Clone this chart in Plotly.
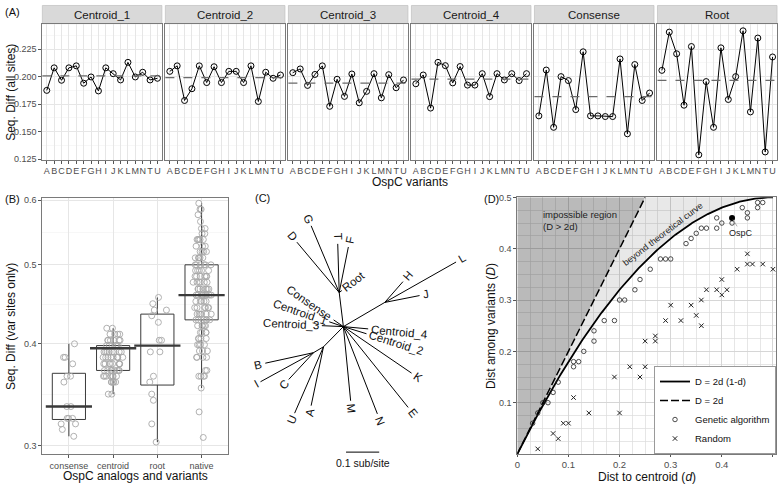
import numpy as np
import plotly.graph_objects as go

W, H = 778, 486
FONT = "Liberation Sans, Arial, Helvetica, sans-serif"

# ---------------- Panel A data ----------------
variants = ["A", "B", "C", "D", "E", "F", "G", "H", "I", "J", "K", "L", "M", "N", "T", "U"]
analogs = ["Centroid_1", "Centroid_2", "Centroid_3", "Centroid_4", "Consense", "Root"]
seqdiff_centroid_1 = [0.1875, 0.2080, 0.1967, 0.2080, 0.2098, 0.1940, 0.1997, 0.1870,
                      0.2080, 0.2027, 0.1970, 0.2130, 0.1997, 0.2040, 0.1970, 0.1985]
seqdiff_centroid_2 = [0.2048, 0.2098, 0.1783, 0.1890, 0.2098, 0.1946, 0.2090, 0.1946,
                      0.2048, 0.2048, 0.1946, 0.2098, 0.1774, 0.2040, 0.1985, 0.2015]
seqdiff_centroid_3 = [0.2036, 0.2070, 0.1920, 0.2020, 0.2098, 0.1730, 0.1976, 0.1820,
                      0.2024, 0.1762, 0.1866, 0.2027, 0.1807, 0.2018, 0.1899, 0.1970]
seqdiff_centroid_4 = [0.1935, 0.2015, 0.1714, 0.2130, 0.2100, 0.1943, 0.2092, 0.1923,
                      0.1923, 0.2027, 0.1818, 0.2027, 0.1970, 0.2027, 0.1964, 0.2027]
seqdiff_consense = [0.1643, 0.2060, 0.1539, 0.2000, 0.1964, 0.1700, 0.2226, 0.1643,
                    0.1643, 0.1637, 0.1637, 0.2161, 0.1480, 0.2110, 0.1783, 0.1851]
seqdiff_root = [0.2057, 0.2405, 0.2208, 0.1740, 0.2274, 0.1289, 0.1955, 0.1539,
                0.2262, 0.1792, 0.2000, 0.2417, 0.1679, 0.2351, 0.1315, 0.2179]
seqdiff_all = [seqdiff_centroid_1, seqdiff_centroid_2, seqdiff_centroid_3,
               seqdiff_centroid_4, seqdiff_consense, seqdiff_root]

# ---------------- Panel B data ----------------
b_groups = ["consense", "centroid", "root", "native"]
box_q1 = [0.323, 0.371, 0.356, 0.428]
box_median = [0.335, 0.395, 0.398, 0.459]
box_q3 = [0.368, 0.398, 0.435, 0.500]
box_lower = [0.308, 0.347, 0.303, 0.353]
box_upper = [0.400, 0.418, 0.456, 0.595]
pts_consense = [0.400, 0.385, 0.385, 0.378, 0.365, 0.365, 0.359, 0.335, 0.335, 0.324,
                0.324, 0.324, 0.319, 0.319, 0.314, 0.308]
pts_centroid = [0.418, 0.418,
                0.411, 0.411, 0.411, 0.411,
                0.404, 0.404, 0.404, 0.404, 0.404, 0.404,
                0.398, 0.398, 0.398, 0.398, 0.398,
                0.391, 0.391, 0.391, 0.391, 0.391, 0.391, 0.391, 0.391,
                0.385, 0.385, 0.385, 0.385, 0.385, 0.385, 0.385, 0.385, 0.385,
                0.378, 0.378, 0.378, 0.378, 0.378, 0.378, 0.378, 0.378,
                0.371, 0.371, 0.371, 0.371, 0.371, 0.371, 0.371, 0.371,
                0.365, 0.365, 0.365, 0.365, 0.365, 0.365, 0.365,
                0.359, 0.359, 0.359, 0.359, 0.359,
                0.347, 0.347]
pts_root = [0.456, 0.448, 0.440, 0.440, 0.433, 0.425, 0.404, 0.404, 0.391, 0.391,
            0.365, 0.359, 0.347, 0.341, 0.319, 0.303]
pts_native = [0.595, 0.585, 0.585, 0.576, 0.565, 0.554, 0.554, 0.546, 0.546,
              0.537, 0.537, 0.537, 0.537, 0.537,
              0.527, 0.527, 0.527,
              0.519, 0.519, 0.519, 0.519,
              0.510, 0.510, 0.510, 0.510, 0.510,
              0.500, 0.500, 0.500, 0.500, 0.500, 0.500,
              0.492, 0.492, 0.492, 0.492, 0.492,
              0.484, 0.484, 0.484, 0.484, 0.484, 0.484,
              0.476, 0.476, 0.476, 0.476, 0.476, 0.476,
              0.467, 0.467, 0.467, 0.467, 0.467, 0.467, 0.467,
              0.459, 0.459, 0.459, 0.459, 0.459, 0.459, 0.459, 0.459,
              0.451, 0.451, 0.451, 0.451, 0.451,
              0.443, 0.443, 0.443, 0.443, 0.443, 0.443,
              0.435, 0.435, 0.435, 0.435, 0.435, 0.435,
              0.428, 0.428, 0.428, 0.428, 0.428, 0.428,
              0.421, 0.421, 0.421, 0.421, 0.421,
              0.413, 0.413, 0.413, 0.413,
              0.406, 0.406, 0.406, 0.406,
              0.399, 0.399, 0.399, 0.399,
              0.392, 0.392, 0.392,
              0.385, 0.385, 0.385, 0.385,
              0.371, 0.371,
              0.365, 0.365, 0.365, 0.365,
              0.353, 0.330, 0.307]
b_points = [pts_consense, pts_centroid, pts_root, pts_native]

# ---------------- Panel C data (unrooted tree: parent, child, branch length sub/site, angle deg) ----------------
tree_parent = ["O", "N1", "N1", "N1", "N1", "N1", "O", "N4", "N4", "N4", "O", "O", "O", "O", "O",
               "O", "O", "O", "O", "O", "N2", "N2", "N2", "N3", "N3", "N3"]
tree_child = ["N1", "D", "G", "T", "F", "Root", "N4", "H", "J", "L", "Centroid_4", "Centroid_2",
              "Centroid_3", "Centroid_1", "Consense", "K", "E", "N", "M", "N2", "A", "U", "N3",
              "B", "I", "C"]
tree_length = [0.105, 0.200, 0.221, 0.149, 0.142, 0.010, 0.145, 0.084, 0.107, 0.248, 0.075, 0.073,
               0.065, 0.045, 0.036, 0.250, 0.315, 0.286, 0.228, 0.086, 0.184, 0.221, 0.035,
               0.149, 0.183, 0.111]
tree_angle = [96.9, 129.6, 112.5, 91.7, 78.8, 38.0, 30.7, 49.2, 11.3, 29.9, -5.3, -17.4,
              177.4, 161.0, 145.0, -34.7, -51.7, -69.0, -84.5, -134.2, -101.7, -113.2, -149.0,
              -167.5, -150.9, -132.4]
scale_bar_len = 0.1

# ---------------- Panel D data ----------------
ga_d = [0.47, 0.48, 0.47, 0.44, 0.45, 0.45, 0.42, 0.40, 0.39, 0.39, 0.36, 0.37, 0.35, 0.34, 0.33,
        0.28, 0.29, 0.30, 0.26, 0.24, 0.23, 0.20, 0.21, 0.17, 0.19, 0.15, 0.15, 0.13, 0.11, 0.12,
        0.11, 0.08, 0.07, 0.06, 0.05, 0.04, 0.03]
ga_D = [0.49, 0.49, 0.48, 0.48, 0.47, 0.46, 0.45, 0.45, 0.46, 0.44, 0.44, 0.44, 0.43, 0.42, 0.41,
        0.38, 0.38, 0.38, 0.36, 0.34, 0.32, 0.30, 0.30, 0.26, 0.26, 0.24, 0.22, 0.20, 0.18, 0.18,
        0.17, 0.14, 0.12, 0.10, 0.10, 0.08, 0.06]
rnd_d = [0.45, 0.45, 0.46, 0.48, 0.50, 0.43, 0.40, 0.37, 0.39, 0.41, 0.40, 0.36, 0.30, 0.34, 0.35,
         0.29, 0.32, 0.36, 0.25, 0.27, 0.27, 0.22, 0.25, 0.19, 0.24, 0.11, 0.14, 0.20, 0.09, 0.10,
         0.07, 0.08, 0.04]
rnd_D = [0.39, 0.37, 0.37, 0.37, 0.36, 0.36, 0.34, 0.32, 0.32, 0.32, 0.31, 0.30, 0.29, 0.29, 0.27,
         0.26, 0.26, 0.25, 0.22, 0.22, 0.23, 0.17, 0.17, 0.15, 0.15, 0.11, 0.08, 0.08, 0.06, 0.06,
         0.04, 0.03, 0.01]
ospc_d = [0.42]
ospc_D = [0.46]

# ---------------- helpers ----------------
def fx(px):
    return px / W

def fy(py):
    return 1 - py / H

GRID = "#e6e6e6"
MINOR = "#f2f2f2"
BORDER = "#7a7a7a"
TICKC = "#4d4d4d"

fig = go.Figure()
annotations = []
shapes = []
layout_axes = {}

# ---------------- Panel A ----------------
A_LEFT, A_W, A_GAP = 39.5, 120.0, 3.5
A_TOP, A_BOT = 19.0, 158.0
for i, (name, vals) in enumerate(zip(analogs, seqdiff_all)):
    n = i + 1
    sfx = "" if n == 1 else str(n)
    left = A_LEFT + i * (A_W + A_GAP)
    right = left + A_W
    fig.add_trace(go.Scatter(
        x=variants, y=vals, mode="lines+markers", xaxis="x" + sfx, yaxis="y" + sfx,
        line=dict(color="black", width=1),
        marker=dict(symbol="circle-open", size=6, color="black", line=dict(width=1)),
        showlegend=False, hoverinfo="skip"))
    shapes.append(dict(type="line", xref="x%s domain" % sfx, yref="y" + sfx,
                       x0=0, x1=1, y0=float(np.mean(vals)), y1=float(np.mean(vals)),
                       line=dict(color="#6a6a6a", width=1.2, dash="dash"), layer="above"))
    layout_axes["xaxis" + sfx] = dict(
        domain=[fx(left), fx(right)], anchor="y" + sfx, type="category",
        categoryorder="array", categoryarray=variants, range=[-0.6, 15.6],
        tickmode="linear", tick0=0, dtick=1,
        showgrid=True, gridcolor=GRID, gridwidth=1, showline=True, mirror=True,
        linecolor=BORDER, linewidth=1, ticks="outside", ticklen=2.5, tickcolor="#555",
        tickfont=dict(size=9, color=TICKC), tickangle=0, zeroline=False)
    layout_axes["yaxis" + sfx] = dict(
        domain=[fy(A_BOT), fy(A_TOP)], anchor="x" + sfx, range=[0.1241, 0.2482],
        tickmode="linear", tick0=0.125, dtick=0.025, tickformat=".3f",
        showticklabels=(n == 1), ticks="outside" if n == 1 else "", ticklen=3,
        tickcolor="#555", tickfont=dict(size=9, color=TICKC),
        showgrid=True, gridcolor=GRID, gridwidth=1,
        minor=dict(tick0=0.125, dtick=0.0125, showgrid=True, gridcolor=MINOR, gridwidth=0.6),
        showline=True, mirror=True, linecolor=BORDER, linewidth=1, zeroline=False)
    # strip
    shapes.append(dict(type="rect", xref="paper", yref="paper", x0=fx(left), x1=fx(right),
                       y0=fy(A_TOP), y1=fy(0.5), fillcolor="#d9d9d9",
                       line=dict(color="#c4c4c4", width=0.8), layer="below"))
    annotations.append(dict(text=name, x=fx((left + right) / 2), y=fy(10), xref="paper", yref="paper",
                            showarrow=False, font=dict(size=11.5, color="#1a1a1a"),
                            xanchor="center", yanchor="middle"))

# ---------------- Panel B ----------------
fig.add_trace(go.Box(
    x=b_groups, q1=box_q1, median=box_median, q3=box_q3,
    lowerfence=box_lower, upperfence=box_upper, xaxis="x7", yaxis="y7",
    width=0.75, whiskerwidth=0, boxpoints=False,
    line=dict(color="#3a3a3a", width=1), fillcolor="rgba(255,255,255,0)",
    showlegend=False, hoverinfo="skip"))
fig.add_trace(go.Scatter(
    x=b_groups, y=box_median, mode="markers", xaxis="x7", yaxis="y7",
    marker=dict(symbol="line-ew", size=33, line=dict(color="#3a3a3a", width=2.4)),
    showlegend=False, hoverinfo="skip"))
px_all, py_all = [], []
for g, pts in zip(b_groups, b_points):
    px_all += [g] * len(pts)
    py_all += pts
fig.add_trace(go.Box(
    x=px_all, y=py_all, xaxis="x7", yaxis="y7", width=0.75,
    boxpoints="all", jitter=0.62, pointpos=0,
    line=dict(color="rgba(0,0,0,0)", width=0), fillcolor="rgba(0,0,0,0)",
    marker=dict(symbol="circle-open", size=6, color="#a8a8a8", line=dict(width=0.9)),
    showlegend=False, hoverinfo="skip"))

B_L, B_R, B_T, B_B = 39.5, 226.0, 197.0, 457.7
layout_axes["xaxis7"] = dict(
    domain=[fx(B_L), fx(B_R)], anchor="y7", type="category", categoryorder="array",
    categoryarray=b_groups, range=[-0.6, 3.6], showgrid=True, gridcolor=GRID, gridwidth=1,
    showline=True, mirror=True, linecolor=BORDER, linewidth=1, ticks="outside", ticklen=2.5,
    tickcolor="#555", tickfont=dict(size=9, color=TICKC), zeroline=False)
layout_axes["yaxis7"] = dict(
    domain=[fy(B_B), fy(B_T)], anchor="x7", type="log",
    range=[np.log10(0.2928), np.log10(0.6033)],
    tickmode="array", tickvals=[0.3, 0.4, 0.5, 0.6], ticktext=["0.3", "0.4", "0.5", "0.6"],
    ticks="outside", ticklen=3, tickcolor="#555", tickfont=dict(size=9, color=TICKC),
    showgrid=True, gridcolor=GRID, gridwidth=1,
    minor=dict(tickmode="array", tickvals=[0.3464, 0.4472, 0.5477], showgrid=True,
               gridcolor=MINOR, gridwidth=0.6),
    showline=True, mirror=True, linecolor=BORDER, linewidth=1, zeroline=False)

# ---------------- Panel C (tree) ----------------
pos = {"O": (0.0, 0.0)}
for p, c, ln, ang in zip(tree_parent, tree_child, tree_length, tree_angle):
    x0, y0 = pos[p]
    a = np.radians(ang)
    pos[c] = (x0 + ln * np.cos(a), y0 + ln * np.sin(a))
ex, ey = [], []
for p, c in zip(tree_parent, tree_child):
    ex += [pos[p][0], pos[c][0], None]
    ey += [pos[p][1], pos[c][1], None]
fig.add_trace(go.Scatter(x=ex, y=ey, mode="lines", xaxis="x8", yaxis="y8",
                         line=dict(color="black", width=1), showlegend=False, hoverinfo="skip"))

C_L, C_R, C_T, C_B = 250.0, 480.0, 180.0, 480.0
c_xr = [-0.2754, 0.4153]
c_yr = [-0.4574, 0.4435]
PX_PER_UNIT = (C_R - C_L) / (c_xr[1] - c_xr[0])
layout_axes["xaxis8"] = dict(domain=[fx(C_L), fx(C_R)], anchor="y8", range=c_xr, visible=False)
layout_axes["yaxis8"] = dict(domain=[fy(C_B), fy(C_T)], anchor="x8", range=c_yr, visible=False)

NARROW = {"i": 0.222, "l": 0.222, "j": 0.222, "t": 0.278, "f": 0.278, "r": 0.333, "I": 0.278,
          " ": 0.278, "_": 0.556, ".": 0.278, "J": 0.5, "M": 0.833}

def text_w(s, size):
    w = 0.0
    for ch in s:
        if ch in NARROW:
            w += NARROW[ch]
        elif ch.isupper():
            w += 0.70
        else:
            w += 0.556
    return w * size

parents = set(tree_parent)
LABEL_SIZE = 11.5
for p, c, ang in zip(tree_parent, tree_child, tree_angle):
    if c in parents:
        continue
    tx, ty = pos[c]
    a = np.radians(ang)
    half = (text_w(c, LABEL_SIZE) / 2 + 3.5) / PX_PER_UNIT
    cx, cy = tx + half * np.cos(a), ty + half * np.sin(a)
    if -90 < ang <= 90:
        rot = -ang
    else:
        rot = -(ang - 180) if ang > 0 else -(ang + 180)
    annotations.append(dict(text=c, x=cx, y=cy, xref="x8", yref="y8", showarrow=False,
                            textangle=rot, font=dict(size=LABEL_SIZE, color="#111"),
                            xanchor="center", yanchor="middle"))

SB_X0, SB_Y = 0.008, -0.384
shapes.append(dict(type="line", xref="x8", yref="y8", x0=SB_X0, x1=SB_X0 + scale_bar_len,
                   y0=SB_Y, y1=SB_Y, line=dict(color="black", width=1)))
annotations.append(dict(text="0.1 sub/site", x=SB_X0 + scale_bar_len / 2, y=SB_Y - 0.034,
                        xref="x8", yref="y8", showarrow=False, font=dict(size=10.5, color="#111"),
                        xanchor="center", yanchor="middle"))

# ---------------- Panel D ----------------
dgrid = np.linspace(0, 0.5, 201)
curve = 2 * dgrid * (1 - dgrid)
d_lin = np.linspace(0, 0.25, 51)
lin = 2 * d_lin
# impossible region D > 2d
fig.add_trace(go.Scatter(x=list(d_lin) + [0.0], y=list(lin) + [0.5], fill="toself",
                         fillcolor="rgba(0,0,0,0.27)", line=dict(width=0), mode="lines",
                         xaxis="x9", yaxis="y9", showlegend=False, hoverinfo="skip"))
# region between D = 2d and the theoretical curve
fig.add_trace(go.Scatter(x=list(d_lin) + [0.5] + list(dgrid[::-1]),
                         y=list(lin) + [0.5] + list(curve[::-1]), fill="toself",
                         fillcolor="rgba(0,0,0,0.09)", line=dict(width=0), mode="lines",
                         xaxis="x9", yaxis="y9", showlegend=False, hoverinfo="skip"))
fig.add_trace(go.Scatter(x=dgrid, y=curve, mode="lines", name="D = 2d (1-d)",
                         line=dict(color="black", width=1.8), xaxis="x9", yaxis="y9"))
fig.add_trace(go.Scatter(x=d_lin, y=lin, mode="lines", name="D = 2d",
                         line=dict(color="black", width=1.5, dash="8px,3px"), xaxis="x9", yaxis="y9"))
fig.add_trace(go.Scatter(x=ga_d, y=ga_D, mode="markers", name="Genetic algorithm",
                         marker=dict(symbol="circle-open", size=4.5, color="#222", line=dict(width=0.8)),
                         xaxis="x9", yaxis="y9"))
fig.add_trace(go.Scatter(x=rnd_d, y=rnd_D, mode="markers", name="Random",
                         marker=dict(symbol="x-thin", size=4.5, color="#222", line=dict(width=1, color="#222")),
                         xaxis="x9", yaxis="y9"))
fig.add_trace(go.Scatter(x=ospc_d, y=ospc_D, mode="markers", marker=dict(size=6, color="black"),
                         xaxis="x9", yaxis="y9", showlegend=False, hoverinfo="skip"))

D_L, D_R, D_T, D_B = 516.3, 776.0, 196.0, 457.5
layout_axes["xaxis9"] = dict(
    domain=[fx(D_L), fx(D_R)], anchor="y9", range=[0, 0.506],
    tickmode="array", tickvals=[0, 0.1, 0.2, 0.3, 0.4, 0.5],
    ticktext=["0", "0.1", "0.2", "0.3", "0.4", "0.5"],
    ticks="outside", ticklen=2, tickcolor="#555", tickfont=dict(size=9.5, color=TICKC),
    showgrid=True, gridcolor="#d2d2d2", gridwidth=0.8,
    minor=dict(tick0=0, dtick=0.025, showgrid=True, gridcolor="#dcdcdc", gridwidth=0.7),
    showline=True, mirror=True, linecolor=BORDER, linewidth=1, zeroline=False)
layout_axes["yaxis9"] = dict(
    domain=[fy(D_B), fy(D_T)], anchor="x9", range=[0, 0.5],
    tickmode="array", tickvals=[0.1, 0.2, 0.3, 0.4, 0.5],
    ticktext=["0.1", "0.2", "0.3", "0.4", "0.5"],
    ticks="outside", ticklen=3, tickcolor="#555", tickfont=dict(size=9, color=TICKC),
    showgrid=True, gridcolor="#d2d2d2", gridwidth=0.8,
    minor=dict(tick0=0, dtick=0.025, showgrid=True, gridcolor="#dcdcdc", gridwidth=0.7),
    showline=True, mirror=True, linecolor=BORDER, linewidth=1, zeroline=False)

annotations.append(dict(text="impossible region<br>(D > 2d)", x=0.046, y=0.482, xref="x9", yref="y9",
                        showarrow=False, align="left", xanchor="left", yanchor="top",
                        font=dict(size=9.5, color="#222")))
annotations.append(dict(text="beyond theoretical curve", x=0.285, y=0.428, xref="x9", yref="y9",
                        showarrow=False, textangle=-37.5, font=dict(size=9, color="#222"),
                        xanchor="center", yanchor="middle"))
annotations.append(dict(text="OspC", x=ospc_d[0], y=ospc_D[0], xref="x9", yref="y9",
                        showarrow=True, arrowhead=0, arrowwidth=0.8, arrowcolor="#999",
                        ax=9, ay=15, standoff=2, font=dict(size=9, color="#222")))

# ---------------- titles & panel labels ----------------
def ann(text, x, y, size=12, angle=0, anchor="center"):
    annotations.append(dict(text=text, x=fx(x), y=fy(y), xref="paper", yref="paper",
                            showarrow=False, textangle=angle, font=dict(size=size, color="#111"),
                            xanchor=anchor, yanchor="middle"))

ann("Seq. Diff (all sites)", 8, 88.5, angle=-90)
ann("OspC variants", 408.5, 180.5)
ann("Seq. Diff (var sites only)", 8, 327, angle=-90)
ann("OspC analogs and variants", 132.7, 480)
ann("Dist to centroid (<i>d</i>)", 646, 481)
ann("Dist among variants (<i>D</i>)", 490, 327, angle=-90)
ann("(A)", 0, 7, size=11, anchor="left")
ann("(B)", 0, 198, size=11, anchor="left")
ann("(C)", 251, 196.5, size=11, anchor="left")
ann("(D)", 480.5, 197.5, size=11, anchor="left")

fig.update_layout(
    width=W, height=H, margin=dict(l=0, r=0, t=0, b=0),
    paper_bgcolor="white", plot_bgcolor="white",
    font=dict(family=FONT, color="#111"),
    boxmode="overlay",
    showlegend=True,
    legend=dict(x=fx(776), xanchor="right", y=fy(457.5), yanchor="bottom",
                bgcolor="white", bordercolor="#9a9a9a", borderwidth=1,
                font=dict(size=9.5, color="#111"), itemwidth=30, tracegroupgap=0),
    annotations=annotations, shapes=shapes, **layout_axes)

fig.write_html("out.html", config={"displayModeBar": False, "staticPlot": True},
               post_script="document.body.style.margin='0px';document.body.style.overflow='hidden';")
